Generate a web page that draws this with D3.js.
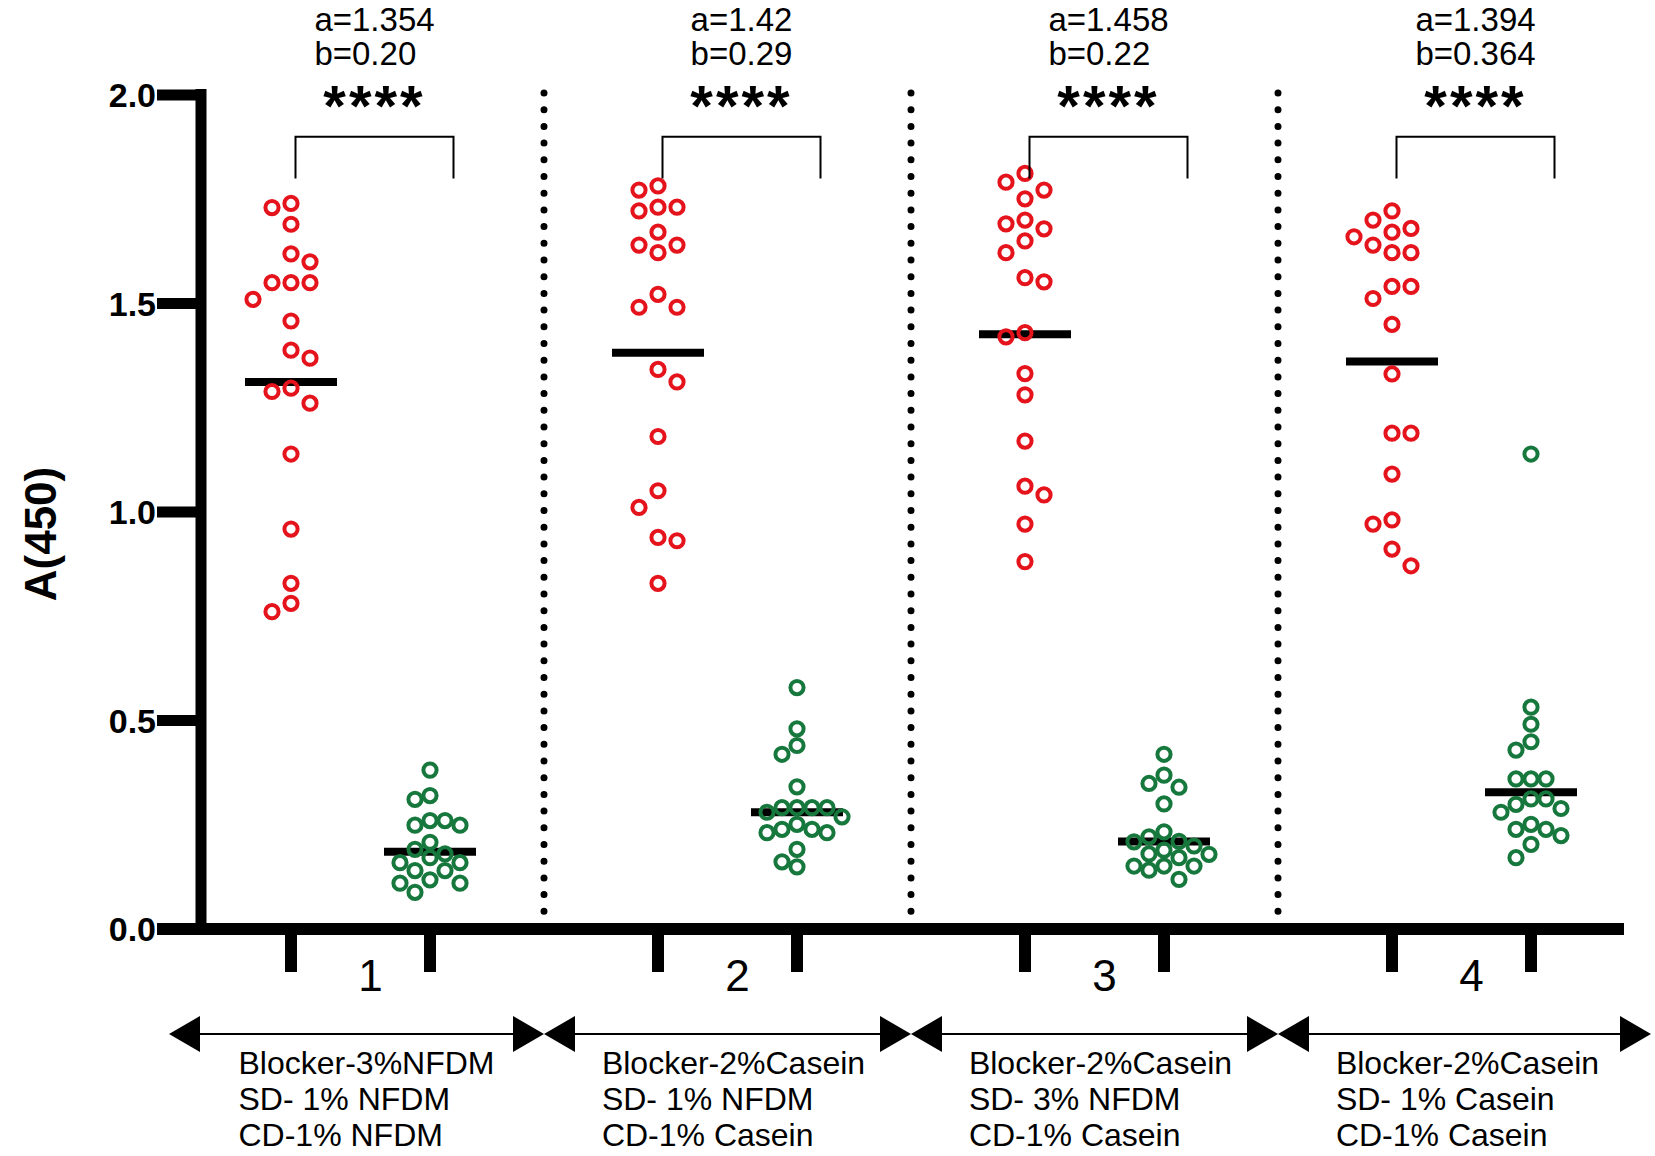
<!DOCTYPE html>
<html>
<head>
<meta charset="utf-8">
<script src="https://cdn.jsdelivr.net/npm/d3@7.9.0/dist/d3.min.js"></script>
<style>
  body { margin: 0; background: #fff; }
  svg { display: block; font-family: "Liberation Sans", Arial, sans-serif; }
</style>
</head>
<body>
<svg id="chart" width="1655" height="1156"></svg>
<script>
// groups and their buffer conditions
const groups = ['1', '2', '3', '4'];
const conditions = [
  ['Blocker-3%NFDM', 'SD- 1% NFDM', 'CD-1% NFDM'],
  ['Blocker-2%Casein', 'SD- 1% NFDM', 'CD-1% Casein'],
  ['Blocker-2%Casein', 'SD- 3% NFDM', 'CD-1% Casein'],
  ['Blocker-2%Casein', 'SD- 1% Casein', 'CD-1% Casein']
];
const aLabels = ['a=1.354', 'a=1.42', 'a=1.458', 'a=1.394'];
const bLabels = ['b=0.20', 'b=0.29', 'b=0.22', 'b=0.364'];
const sigLabels = ['****', '****', '****', '****'];
const yTicks = [0, 0.5, 1.0, 1.5, 2.0];

// A(450) values
const redValues = [
  [1.740, 1.730, 1.690, 1.619, 1.600, 1.550, 1.550, 1.550, 1.510, 1.458, 1.388, 1.369, 1.297, 1.289, 1.261, 1.139, 0.959, 0.829, 0.781, 0.761],
  [1.782, 1.772, 1.731, 1.731, 1.722, 1.671, 1.640, 1.640, 1.622, 1.522, 1.491, 1.491, 1.342, 1.312, 1.181, 1.051, 1.011, 0.939, 0.931, 0.829],
  [1.812, 1.791, 1.772, 1.751, 1.700, 1.691, 1.679, 1.650, 1.622, 1.562, 1.552, 1.430, 1.420, 1.332, 1.281, 1.170, 1.062, 1.041, 0.971, 0.881],
  [1.722, 1.700, 1.680, 1.671, 1.660, 1.640, 1.622, 1.622, 1.541, 1.541, 1.512, 1.450, 1.331, 1.189, 1.189, 1.091, 0.981, 0.971, 0.911, 0.871]
];
const greenValues = [
  [0.381, 0.320, 0.311, 0.260, 0.260, 0.249, 0.249, 0.208, 0.191, 0.180, 0.171, 0.159, 0.159, 0.140, 0.140, 0.118, 0.110, 0.110, 0.088],
  [0.579, 0.480, 0.440, 0.419, 0.341, 0.291, 0.291, 0.291, 0.291, 0.280, 0.269, 0.251, 0.239, 0.239, 0.231, 0.231, 0.191, 0.161, 0.149],
  [0.419, 0.369, 0.349, 0.340, 0.300, 0.233, 0.221, 0.210, 0.209, 0.199, 0.189, 0.180, 0.179, 0.171, 0.151, 0.151, 0.151, 0.141, 0.119],
  [1.139, 0.532, 0.491, 0.449, 0.429, 0.360, 0.360, 0.360, 0.312, 0.312, 0.299, 0.289, 0.280, 0.251, 0.239, 0.239, 0.224, 0.203, 0.171]
];
// horizontal line drawn through each column
const redLines = [1.312, 1.382, 1.426, 1.361];
const greenLines = [0.185, 0.280, 0.210, 0.328];

const RED = '#e5131b';
const GREEN = '#17783d';
const FONT = '"Liberation Sans", Arial, sans-serif';

const svg = d3.select('#chart');

const y = d3.scaleLinear().domain([0, 2]).range([929, 95]);
const xGroup = d3.scaleBand().domain(groups).range([177, 1645]).paddingInner(0).paddingOuter(0);
const xSeries = d3.scalePoint().domain(['red', 'green']).range([-69.5, 69.5]);
const center = (g) => xGroup(g) + xGroup.bandwidth() / 2;

// beeswarm: nearest free slot, ties go to the emptier side
function swarm(values, step, minDist) {
  const placed = [];
  const out = [];
  const order = values.map((v, i) => ({ v, i })).sort((a, b) => b.v - a.v);
  const free = (px, py) => placed.every((q) => Math.hypot(q.x - px, q.y - py) >= minDist);
  for (const p of order) {
    const py = y(p.v);
    let px = null;
    if (free(0, py)) px = 0;
    for (let k = 1; px === null && k < 20; k++) {
      const l = free(-k * step, py), r = free(k * step, py);
      if (l && r) {
        const nl = placed.filter((q) => q.x < 0).length;
        const nr = placed.filter((q) => q.x > 0).length;
        px = nl <= nr ? -k * step : k * step;
      } else if (l) px = -k * step;
      else if (r) px = k * step;
    }
    placed.push({ x: px, y: py });
    out[p.i] = { v: p.v, dx: px };
  }
  return out;
}

// dotted separators between groups
groups.slice(1).forEach((g) => {
  svg.append('line')
    .attr('x1', xGroup(g)).attr('x2', xGroup(g))
    .attr('y1', y(2.0) - 2).attr('y2', y(0) + 4)
    .attr('stroke', '#000').attr('stroke-width', 7)
    .attr('stroke-linecap', 'round')
    .attr('stroke-dasharray', '0,16.7');
});

// y axis
svg.append('line')
  .attr('x1', 201).attr('x2', 201)
  .attr('y1', y(2.0) - 6).attr('y2', y(0) + 6)
  .attr('stroke', '#000').attr('stroke-width', 11);

yTicks.forEach((t) => {
  svg.append('line')
    .attr('x1', 157).attr('x2', 201)
    .attr('y1', y(t)).attr('y2', y(t))
    .attr('stroke', '#000').attr('stroke-width', 11);
  svg.append('text')
    .attr('x', 156).attr('y', y(t)).attr('dy', '0.36em')
    .attr('text-anchor', 'end')
    .attr('font-family', FONT).attr('font-weight', 'bold').attr('font-size', 34)
    .text(d3.format('.1f')(t));
});

svg.append('text')
  .attr('transform', `translate(56,${(y(0) + y(2)) / 2 + 22}) rotate(-90)`)
  .attr('text-anchor', 'middle')
  .attr('font-family', FONT).attr('font-weight', 'bold').attr('font-size', 44)
  .text('A(450)');

// x axis
svg.append('line')
  .attr('x1', 157).attr('x2', 1624)
  .attr('y1', y(0)).attr('y2', y(0))
  .attr('stroke', '#000').attr('stroke-width', 12);

groups.forEach((g, gi) => {
  const cx = center(g);

  ['red', 'green'].forEach((s) => {
    svg.append('line')
      .attr('x1', cx + xSeries(s)).attr('x2', cx + xSeries(s))
      .attr('y1', y(0)).attr('y2', y(0) + 43)
      .attr('stroke', '#000').attr('stroke-width', 12);
  });

  svg.append('text')
    .attr('x', cx + 10).attr('y', 991)
    .attr('text-anchor', 'middle')
    .attr('font-family', FONT).attr('font-size', 44)
    .text(g);

  // mean lines (drawn under the open circles)
  [['red', redLines[gi]], ['green', greenLines[gi]]].forEach(([s, v]) => {
    svg.append('line')
      .attr('x1', cx + xSeries(s) - 46).attr('x2', cx + xSeries(s) + 46)
      .attr('y1', y(v)).attr('y2', y(v))
      .attr('stroke', '#000').attr('stroke-width', 8);
  });

  [['red', redValues[gi], RED, 19, 19], ['green', greenValues[gi], GREEN, 15, 15]].forEach(([s, vals, col, step, md]) => {
    svg.append('g').selectAll('circle')
      .data(swarm(vals, step, md))
      .join('circle')
      .attr('cx', (d) => cx + xSeries(s) + d.dx)
      .attr('cy', (d) => y(d.v))
      .attr('r', 6.6)
      .attr('fill', 'none')
      .attr('stroke', col)
      .attr('stroke-width', 4);
  });

  // significance bracket and annotation
  const bc = cx + 14;
  svg.append('path')
    .attr('d', `M${bc - 79},${y(1.8)}V${y(1.9)}H${bc + 79}V${y(1.8)}`)
    .attr('fill', 'none').attr('stroke', '#000').attr('stroke-width', 2);

  svg.append('text')
    .attr('x', bc).attr('y', 126)
    .attr('text-anchor', 'middle')
    .attr('font-family', FONT).attr('font-weight', 'bold').attr('font-size', 58)
    .attr('letter-spacing', 3)
    .text(sigLabels[gi]);

  const ab = svg.append('g');
  const ta = ab.append('text').attr('y', 31).attr('font-family', FONT).attr('font-size', 33).text(aLabels[gi]);
  const tb = ab.append('text').attr('y', 65).attr('font-family', FONT).attr('font-size', 33).text(bLabels[gi]);
  const wAB = Math.max(ta.node().getComputedTextLength(), tb.node().getComputedTextLength());
  ta.attr('x', bc - wAB / 2);
  tb.attr('x', bc - wAB / 2);

  // double arrow and condition text; outer ends reach a little further
  const x0 = xGroup(g) - (gi === 0 ? 8 : 0);
  const x1 = xGroup(g) + xGroup.bandwidth() + (gi === groups.length - 1 ? 6 : 0);
  const ay = 1034;
  svg.append('line')
    .attr('x1', x0 + 20).attr('x2', x1 - 20)
    .attr('y1', ay).attr('y2', ay)
    .attr('stroke', '#000').attr('stroke-width', 2);
  svg.append('path').attr('d', `M${x0},${ay}L${x0 + 31},${ay - 18}L${x0 + 31},${ay + 18}Z`).attr('fill', '#000');
  svg.append('path').attr('d', `M${x1},${ay}L${x1 - 31},${ay - 18}L${x1 - 31},${ay + 18}Z`).attr('fill', '#000');

  const tg = svg.append('g');
  const lines = conditions[gi].map((t, li) =>
    tg.append('text')
      .attr('y', 1074 + li * 36)
      .attr('font-family', FONT).attr('font-size', 32)
      .text(t));
  const wC = d3.max(lines, (l) => l.node().getComputedTextLength());
  lines.forEach((l) => l.attr('x', cx + 6 - wC / 2));
});
</script>
</body>
</html>
